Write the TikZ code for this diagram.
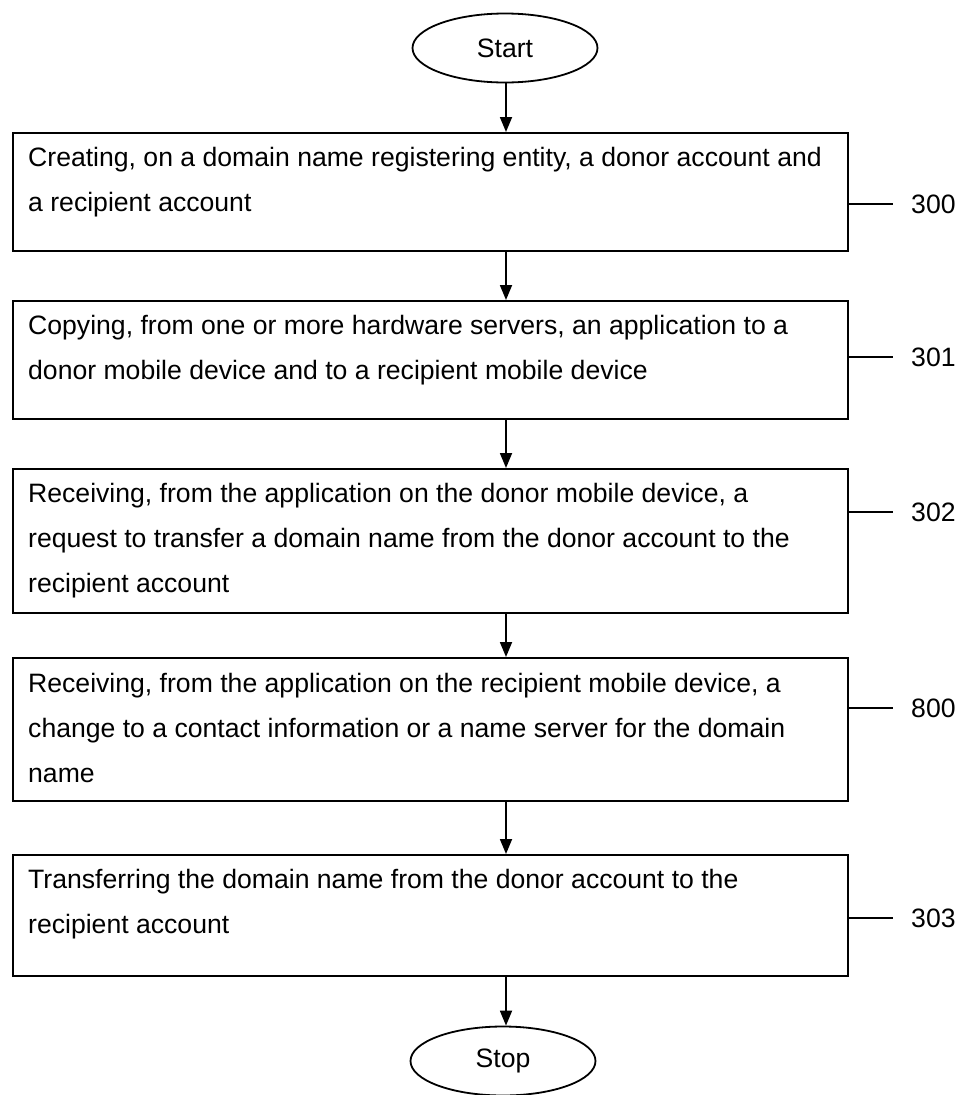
\documentclass[tikz,border=0pt]{standalone}
\usepackage{fontspec}
\setmainfont{Liberation Sans}
\usetikzlibrary{arrows.meta,shapes.geometric}
\begin{document}
\begin{tikzpicture}[x=1pt,y=-1pt,
 box/.style={draw,line width=1.8pt,rectangle,inner sep=0,minimum width=835pt,anchor=north west},
 txt/.style={anchor=base west,align=left,inner sep=0,font=\fontsize{26.6}{45}\selectfont},
 term/.style={draw,line width=1.8pt,ellipse,inner sep=0,minimum width=185pt,minimum height=69pt,font=\fontsize{26.6}{30}\selectfont},
 arr/.style={line width=1.8pt,-{Triangle[length=15pt,width=12pt]}},
 lab/.style={line width=1.6pt},
 num/.style={anchor=west,inner sep=0,font=\fontsize{26.6}{30}\selectfont}]
\useasboundingbox (0,0) rectangle (961,1095);
% terminals
\node[term] (start) at (505,48) {Start};
\node[term] (stop) at (503,1061) {Stop};
% boxes
\node[box,minimum height=118pt] (b1) at (12,132) {};
\node[box,minimum height=118pt] (b2) at (12,300) {};
\node[box,minimum height=144pt] (b3) at (12,468) {};
\node[box,minimum height=143pt] (b4) at (12,657) {};
\node[box,minimum height=121pt] (b5) at (12,854) {};
% texts (anchored at the baseline of their last line)
\node[txt] (t1) at (28,211) {Creating, on a domain name registering entity, a donor account and\\a recipient account};
\node[txt] (t2) at (28,379) {Copying, from one or more hardware servers, an application to a\\donor mobile device and to a recipient mobile device};
\node[txt] (t3) at (28,592) {Receiving, from the application on the donor mobile device, a\\request to transfer a domain name from the donor account to the\\recipient account};
\node[txt] (t4) at (28,782) {Receiving, from the application on the recipient mobile device, a\\change to a contact information or a name server for the domain\\name};
\node[txt] (t5) at (28,933) {Transferring the domain name from the donor account to the\\recipient account};
% arrows
\draw[arr] (start.south -| 506,0) -- (b1.north -| 506,0);
\draw[arr] (b1.south -| 506,0) -- (b2.north -| 506,0);
\draw[arr] (b2.south -| 506,0) -- (b3.north -| 506,0);
\draw[arr] (b3.south -| 506,0) -- (b4.north -| 506,0);
\draw[arr] (b4.south -| 506,0) -- (b5.north -| 506,0);
\draw[arr] (b5.south -| 506,0) -- (stop.north -| 506,0);
% reference numerals
\coordinate (l1) at (893,204);
\coordinate (l2) at (893,357);
\coordinate (l3) at (893,512);
\coordinate (l4) at (893,708);
\coordinate (l5) at (893,918);
\draw[lab] (l1 -| b1.east) -- (l1);
\draw[lab] (l2 -| b2.east) -- (l2);
\draw[lab] (l3 -| b3.east) -- (l3);
\draw[lab] (l4 -| b4.east) -- (l4);
\draw[lab] (l5 -| b5.east) -- (l5);
\node[num] (n1) at (911,204) {300};
\node[num] (n2) at (911,357) {301};
\node[num] (n3) at (911,512) {302};
\node[num] (n4) at (911,708) {800};
\node[num] (n5) at (911,918) {303};
\end{tikzpicture}
\end{document}
